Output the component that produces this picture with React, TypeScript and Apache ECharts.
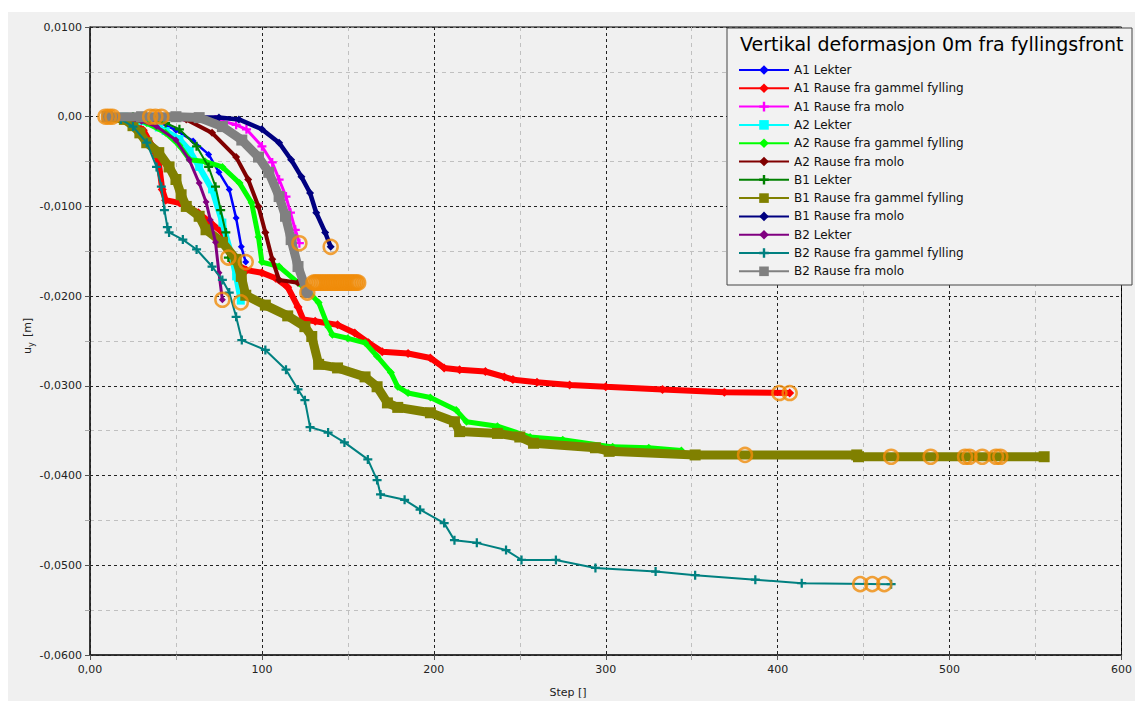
import React, { useEffect, useRef } from "react";
import * as echarts from "echarts";

const seriesNames = [
  "A1 Lekter",
  "A1 Rause fra gammel fylling",
  "A1 Rause fra molo",
  "A2 Lekter",
  "A2 Rause fra gammel fylling",
  "A2 Rause fra molo",
  "B1 Lekter",
  "B1 Rause fra gammel fylling",
  "B1 Rause fra molo",
  "B2 Lekter",
  "B2 Rause fra gammel fylling",
  "B2 Rause fra molo",
];

const a1Lekter = [[10,0],[20,0],[30,-0.0001],[40,-0.0006],[50,-0.0015],[60,-0.0027],[69,-0.0042],[75,-0.0062],[81,-0.0081],[85,-0.0113],[88,-0.0145],[90.6,-0.0162]];
const a1Gammel = [[10,0],[20,-0.0002],[26,-0.0008],[31,-0.0015],[36,-0.0032],[40,-0.0051],[42,-0.0081],[44,-0.0093],[52,-0.0096],[63,-0.0107],[70,-0.0118],[77,-0.0129],[80,-0.0145],[83,-0.0162],[91,-0.0171],[100,-0.0174],[108,-0.018],[115,-0.019],[121,-0.0212],[124,-0.0226],[131,-0.0228],[144,-0.0232],[154,-0.0241],[162,-0.0252],[170,-0.0262],[185,-0.0264],[198,-0.0269],[206,-0.028],[215,-0.0282],[230,-0.0284],[241,-0.029],[246,-0.0293],[260,-0.0296],[279,-0.0299],[300,-0.0301],[333,-0.0304],[369,-0.0307],[407,-0.0308]];
const a1Molo = [[10,0],[40,0],[55,-0.0001],[73,-0.0003],[85,-0.0009],[91,-0.0014],[100,-0.0033],[106,-0.0051],[110,-0.007],[114,-0.0089],[116.6,-0.0107],[119.4,-0.0126],[121.8,-0.0141]];
const a2Lekter = [[10,0],[20,0],[30,-0.0005],[40,-0.0012],[44,-0.0016],[52,-0.0025],[58,-0.0038],[63.5,-0.0056],[71,-0.0081],[77,-0.0118],[82.5,-0.0156],[85,-0.0178],[87.7,-0.0205]];
const a2Gammel = [[10,0],[25,-0.0002],[33,-0.0007],[44,-0.0018],[52,-0.0032],[58,-0.0048],[67,-0.005],[77,-0.0056],[87,-0.0074],[94,-0.0096],[98,-0.0134],[100,-0.0162],[110,-0.0167],[121,-0.0185],[127,-0.0195],[133,-0.0207],[138.5,-0.0234],[141,-0.0243],[150,-0.0247],[160,-0.0252],[167,-0.0267],[175,-0.0285],[179,-0.0301],[185,-0.0308],[198,-0.0313],[213,-0.0327],[219,-0.034],[237,-0.0345],[256,-0.0357],[275,-0.036],[304,-0.0368],[325,-0.0369],[344,-0.0372]];
const a2Molo = [[10,0],[40,0],[56,-0.0003],[71,-0.0018],[85,-0.0045],[92,-0.007],[98,-0.01],[102,-0.0129],[106,-0.0159],[110,-0.0182],[121,-0.0185],[124,-0.0185]];
const b1Lekter = [[10,0],[25,0],[35,-0.0003],[44,-0.0007],[52,-0.0014],[62,-0.0033],[69,-0.0056],[73,-0.0078],[76,-0.0104],[79,-0.0129],[80.5,-0.0157]];
const b1Gammel = [[10,0],[20,-0.0003],[25,-0.001],[29,-0.0018],[33,-0.0029],[40,-0.004],[46,-0.0056],[50,-0.007],[53,-0.0087],[56,-0.01],[63.5,-0.0111],[67.5,-0.0126],[77,-0.014],[85,-0.0159],[88,-0.0178],[90.6,-0.0199],[102,-0.021],[115,-0.0222],[125,-0.0234],[129,-0.0245],[133,-0.0276],[144,-0.028],[160,-0.029],[167,-0.0301],[173,-0.0319],[179,-0.0324],[198,-0.033],[212,-0.034],[215,-0.0351],[237,-0.0353],[250,-0.0357],[258,-0.0364],[294,-0.0369],[302,-0.0373],[352,-0.0377],[446,-0.0377],[447,-0.0379],[555,-0.0379]];
const b1Molo = [[10,0],[45,0],[60,-0.0001],[75,-0.0001],[86.6,-0.0003],[100,-0.0014],[110,-0.0029],[117,-0.0048],[123,-0.0067],[128,-0.0085],[131.6,-0.0107],[136.8,-0.0129],[140,-0.0145]];
const b2Lekter = [[10,0],[20,-0.0002],[30,-0.0005],[38.7,-0.0011],[50,-0.0026],[57.7,-0.0048],[63.5,-0.0074],[67.5,-0.0095],[70,-0.0115],[73,-0.014],[75,-0.0174],[77,-0.0204]];
const b2Gammel = [[10,0],[18,-0.0003],[25,-0.0011],[33,-0.0029],[38.7,-0.0056],[41.5,-0.0078],[43.3,-0.0104],[45,-0.0123],[46,-0.0129],[54,-0.0137],[62,-0.0148],[71,-0.0167],[77,-0.0182],[81,-0.0196],[85,-0.0223],[88.3,-0.0249],[102,-0.026],[114,-0.0282],[121,-0.0304],[125,-0.0316],[128,-0.0346],[138.5,-0.0352],[148,-0.0363],[161.6,-0.0382],[167,-0.0405],[169,-0.0421],[183,-0.0427],[192,-0.0438],[206,-0.0453],[212,-0.0472],[225,-0.0475],[242,-0.0483],[251,-0.0494],[271,-0.0494],[294,-0.0503],[329,-0.0507],[352,-0.0511],[387,-0.0516],[414,-0.052],[466,-0.0521]];
const b2Molo = [[10,0],[30,0],[50,0],[63.5,-0.0001],[77,-0.0011],[88.3,-0.0026],[98,-0.0045],[104,-0.0062],[110,-0.0089],[113.7,-0.0111],[117,-0.0137],[121,-0.0167],[125.8,-0.0193],[126.4,-0.0196]];

const highlightPoints = [
  [9,0],[11,0],[13,0],[35,0],[38,0],[41.5,0],
  [90.6,-0.0162],[80.5,-0.0157],[77,-0.0204],[87.7,-0.0207],[121.8,-0.0141],[140,-0.0145],[126.4,-0.0196],
  [130,-0.0185],[131,-0.0185],[132,-0.0185],[133,-0.0185],[134,-0.0185],[135,-0.0185],[136,-0.0185],[137,-0.0185],[138,-0.0185],[139,-0.0185],[140,-0.0185],[141,-0.0185],[142,-0.0185],[143,-0.0185],[144,-0.0185],[145,-0.0185],[146,-0.0185],[147,-0.0185],[148,-0.0185],[149,-0.0185],[150,-0.0185],[151,-0.0185],[152,-0.0185],[153,-0.0185],[154,-0.0185],[155,-0.0185],[156,-0.0185],
  [401,-0.0308],[407,-0.0308],
  [381,-0.0377],[466,-0.0379],[489,-0.0379],[509,-0.0379],[511.6,-0.0379],[519,-0.0379],[527,-0.0379],[529.5,-0.0379],
  [448,-0.0521],[455,-0.0521],[462,-0.0521],
];

const PLUS = "path://M3,0H5V3H8V5H5V8H3V5H0V3H3Z";

const seriesData = [a1Lekter, a1Gammel, a1Molo, a2Lekter, a2Gammel, a2Molo, b1Lekter, b1Gammel, b1Molo, b2Lekter, b2Gammel, b2Molo];
const seriesColors = ["#0000ff", "#ff0000", "#ff00ff", "#00ffff", "#00ff00", "#800000", "#008000", "#808000", "#000080", "#800080", "#008080", "#808080"];
const seriesSymbols = ["diamond", "diamond", PLUS, "rect", "diamond", "diamond", PLUS, "rect", "diamond", "diamond", PLUS, "rect"];
const seriesSymbolSizes = [7, 9, 9, 8, 8, 8, 9, 11, 8, 7, 9, 11];
const seriesLineWidths = [2.5, 6, 3, 6, 5, 4, 2, 9, 4.5, 3, 2, 9];

const FONT = "DejaVu Sans";

export default function App() {
  const ref = useRef<HTMLDivElement>(null);
  useEffect(() => {
    if (!ref.current) return;
    const chart = echarts.init(ref.current, undefined, { renderer: "svg" });
    const series: any[] = seriesNames.map((name, i) => ({
      name,
      type: "line",
      data: seriesData[i],
      symbol: seriesSymbols[i],
      symbolSize: seriesSymbolSizes[i],
      showAllSymbol: true,
      color: seriesColors[i],
      lineStyle: { width: seriesLineWidths[i], color: seriesColors[i] },
      itemStyle: { color: seriesColors[i] },
      z: 2 + i * 0.05,
    }));
    series.push({
      name: "highlight",
      type: "scatter",
      data: highlightPoints,
      symbol: "circle",
      symbolSize: 14,
      itemStyle: { color: "rgba(0,0,0,0)", borderColor: "#f08c0a", borderWidth: 2.5 },
      z: 3,
    });
    chart.setOption({
      animation: false,
      backgroundColor: "#f0f0f0",
      grid: { left: 82, top: 15, right: 6, bottom: 46, show: true, borderColor: "#000", borderWidth: 1, backgroundColor: "transparent" },
      xAxis: {
        type: "value",
        min: 0,
        max: 600,
        interval: 100,
        axisLine: { show: true, onZero: false, lineStyle: { color: "#222", width: 1.5 } },
        axisTick: { show: true, length: 5, lineStyle: { color: "#555" } },
        minorTick: { show: true, splitNumber: 2, length: 5, lineStyle: { color: "#aaa" } },
        axisLabel: { color: "#222", fontSize: 11, fontFamily: FONT, margin: 9, formatter: (v: number) => (v === 0 ? "0,00" : String(v)) },
        splitLine: { show: true, lineStyle: { color: "#222", type: [3, 3], width: 1 } },
        minorSplitLine: { show: true, lineStyle: { color: "#c0c0c0", type: [4, 4], width: 1 } },
      },
      yAxis: {
        type: "value",
        min: -0.06,
        max: 0.01,
        interval: 0.01,
        axisLine: { show: true, onZero: false, lineStyle: { color: "#222", width: 1.5 } },
        axisTick: { show: true, length: 5, lineStyle: { color: "#555" } },
        minorTick: { show: true, splitNumber: 2, length: 5, lineStyle: { color: "#aaa" } },
        axisLabel: {
          color: "#222",
          fontSize: 11,
          fontFamily: FONT,
          margin: 8,
          formatter: (v: number) => (Math.abs(v) < 1e-9 ? "0,00" : v.toFixed(4).replace(".", ",")),
        },
        splitLine: { show: true, lineStyle: { color: "#222", type: [3, 3], width: 1 } },
        minorSplitLine: { show: true, lineStyle: { color: "#c0c0c0", type: [4, 4], width: 1 } },
      },
      legend: {
        data: seriesNames,
        orient: "vertical",
        left: 725,
        top: 47,
        itemWidth: 50,
        itemHeight: 12,
        itemGap: 6.3,
        textStyle: { fontFamily: FONT, fontSize: 12, color: "#111" },
        z: 6,
      },
      graphic: [
        {
          type: "rect",
          shape: { x: 719, y: 16, width: 405, height: 257 },
          style: { fill: "#f2f2f2", stroke: "#444", lineWidth: 1 },
          z: 5,
        },
        {
          type: "text",
          x: 732,
          y: 32,
          style: { text: "Vertikal deformasjon 0m fra fyllingsfront", font: `19px "${FONT}"`, fill: "#000", textVerticalAlign: "middle" },
          z: 7,
        },
        {
          type: "text",
          x: 560,
          y: 680,
          style: { text: "Step []", font: `11px "${FONT}"`, fill: "#222", textAlign: "center", textVerticalAlign: "middle" },
          z: 7,
        },
        {
          type: "group",
          x: 19,
          y: 331,
          rotation: Math.PI / 2,
          children: [
            { type: "text", x: -4, y: 0, style: { text: "u", font: `11px "${FONT}"`, fill: "#222", textAlign: "right", textVerticalAlign: "middle" } },
            { type: "text", x: -4, y: 4, style: { text: "y", font: `8px "${FONT}"`, fill: "#222", textAlign: "left", textVerticalAlign: "middle" } },
            { type: "text", x: 6, y: 0, style: { text: "[m]", font: `11px "${FONT}"`, fill: "#222", textAlign: "left", textVerticalAlign: "middle" } },
          ],
          z: 7,
        },
      ],
      series,
    });
    return () => chart.dispose();
  }, []);
  return (
    <div
      ref={ref}
      style={{ position: "fixed", left: 8, top: 12, width: 1127, height: 689 }}
    />
  );
}
